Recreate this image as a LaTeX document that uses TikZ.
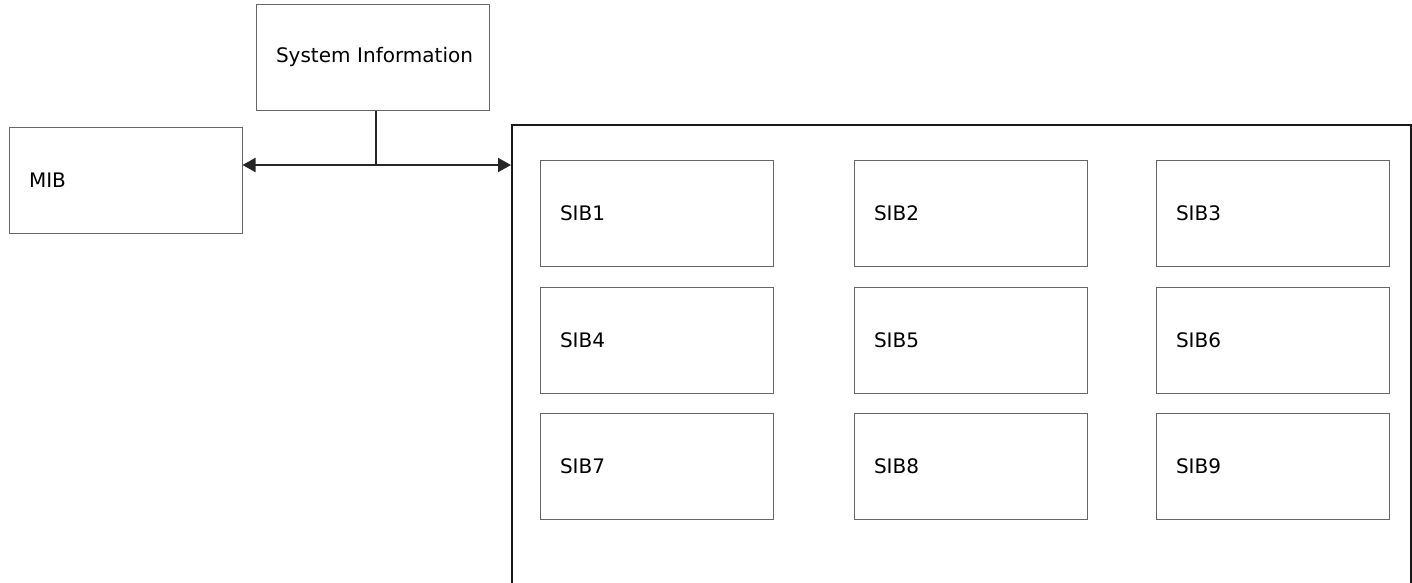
\documentclass[tikz,border=0pt]{standalone}
\usepackage{fontspec}
\setmainfont{DejaVu Sans}
\usetikzlibrary{arrows.meta}
\begin{document}
\begin{tikzpicture}[x=1pt,y=-1pt,
  box/.style={draw=black!60, line width=1pt, minimum width=233pt, minimum height=106pt,
    text width=193pt, align=left, inner xsep=20pt, inner ysep=0pt,
    font=\fontsize{20}{24}\selectfont},
  frame/.style={draw=black!90, line width=2pt, minimum width=899pt, minimum height=500pt, inner sep=0pt},
  conn/.style={draw=black!85, line width=2pt},
  arr/.style={conn, -{Triangle[length=13pt,width=14pt]}}]
\useasboundingbox (0,0) rectangle (1412,582);
\clip (0,0) rectangle (1412,582);
\node[box] (si) at (372.5,57) {\mbox{System Information}};
\node[box] (mib) at (125.5,180) {MIB};
\node[frame] (sibs) at (961.5,375) {};
\node[box] (s1) at (656.5,213) {SIB1};
\node[box] (s2) at (970.5,213) {SIB2};
\node[box] (s3) at (1272.5,213) {SIB3};
\node[box] (s4) at (656.5,340) {SIB4};
\node[box] (s5) at (970.5,340) {SIB5};
\node[box] (s6) at (1272.5,340) {SIB6};
\node[box] (s7) at (656.5,466) {SIB7};
\node[box] (s8) at (970.5,466) {SIB8};
\node[box] (s9) at (1272.5,466) {SIB9};
\coordinate (j) at (376,165);
\draw[conn] (j |- si.south) -- (j);
\draw[arr] (j) -- (mib.east |- j);
\draw[arr] (j) -- (sibs.west |- j);
\end{tikzpicture}
\end{document}
